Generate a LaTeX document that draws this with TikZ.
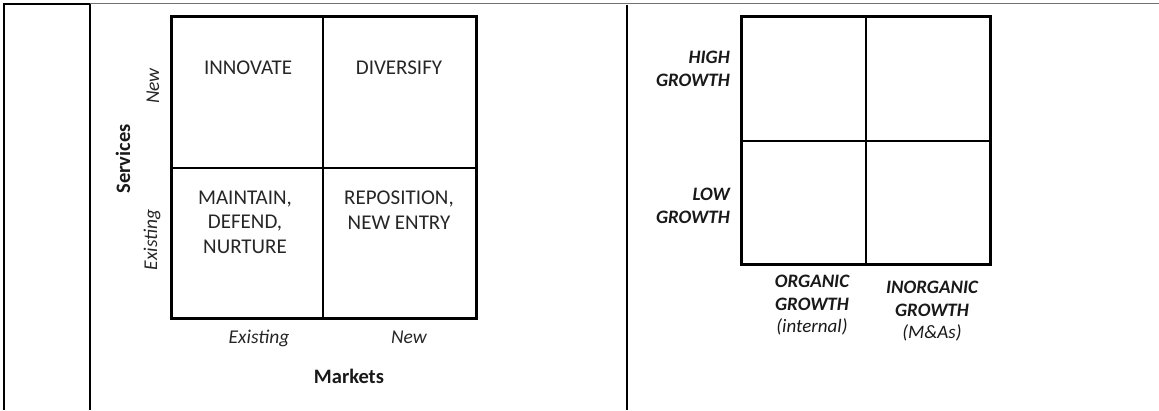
\documentclass[tikz,border=0pt]{standalone}
\usepackage{fontspec}
\setmainfont{Carlito}
\begin{document}
\begin{tikzpicture}[x=1pt,y=-1pt,
  txt/.style={inner sep=0pt, text=black!85, font=\fontsize{21}{24.5}\selectfont, align=center},
  ital/.style={inner sep=0pt, text=black!85, font=\fontsize{19.5}{23}\selectfont\itshape},
  bolds/.style={inner sep=0pt, text=black!90, font=\fontsize{20.5}{24}\selectfont\bfseries},
  bit/.style={inner sep=0pt, text=black!90, font=\fontsize{19}{22.5}\selectfont\bfseries\itshape},
  frame/.style={line width=3pt, black},
  divline/.style={line width=1.6pt, black},
  tab/.style={line width=2pt, black}]
\useasboundingbox (0,0) rectangle (1159,410);
% table borders
\draw[line width=1.5pt, black!55] (90,3.5) -- (1159,3.5);
\draw[tab] (4,410) -- (4,4) -- (90,4);
\draw[tab] (90,4) -- (90,410);
\draw[tab] (627,5) -- (627,410);
% left matrix
\draw[divline] (323,16) -- (323,318);
\draw[divline] (171,168) -- (476,168);
\draw[frame] (171,16) rectangle (476,318);
\node[txt] (innovate) at (248,68) {INNOVATE};
\node[txt] (diversify) at (399,68) {DIVERSIFY};
\node[txt] (maintain) at (245,222) {MAINTAIN,\\DEFEND,\\NURTURE};
\node[txt] (reposition) at (399,210) {REPOSITION,\\NEW ENTRY};
\node[ital, anchor=base] (mexist) at (259,343) {Existing};
\node[ital, anchor=base] (mnew) at (409,343) {New};
\node[bolds, anchor=base] (markets) at (349,383) {Markets};
\node[bolds, rotate=90, anchor=base] (services) at (130,159) {Services};
\node[ital, rotate=90, anchor=base] (snew) at (159,86) {New};
\node[ital, rotate=90, anchor=base] (sexist) at (157,240) {Existing};
% right matrix
\draw[divline] (866,16) -- (866,264);
\draw[divline] (741,141) -- (990,141);
\draw[frame] (741,16) rectangle (990,264);
\node[bit, align=right, anchor=east] (high) at (730,69) {HIGH\\GROWTH};
\node[bit, align=right, anchor=east] (low) at (730,206) {LOW\\GROWTH};
\node[bit, align=center] (organic) at (812,305.5) {ORGANIC\\GROWTH\\{\mdseries(internal)}};
\node[bit, align=center] (inorganic) at (932,311.5) {INORGANIC\\GROWTH\\{\mdseries(M\&As)}};
\end{tikzpicture}
\end{document}
